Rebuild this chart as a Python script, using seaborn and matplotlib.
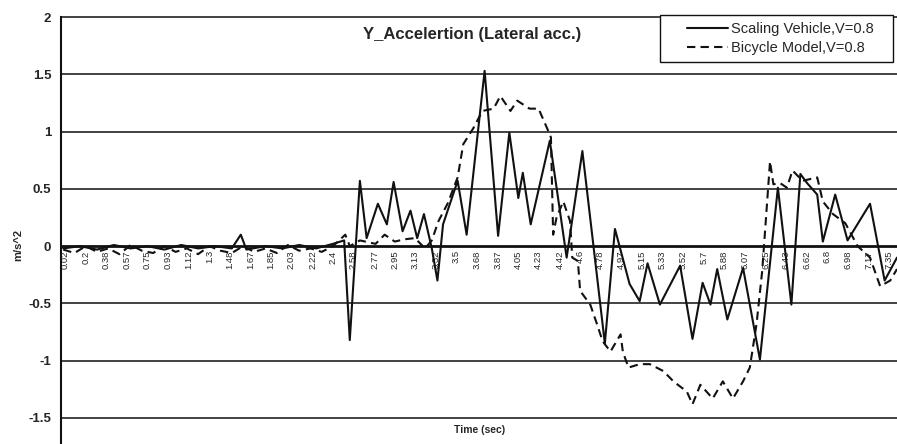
import matplotlib
matplotlib.use("Agg")
import matplotlib.pyplot as plt
import matplotlib.patches as mpatches
import seaborn as sns
import pandas as pd

# Scaling vehicle (solid line), time in s and lateral acceleration in m/s^2
scaling_t = [0.00, 0.15, 0.30, 0.45, 0.60, 0.75, 0.90, 1.05, 1.20, 1.35, 1.50, 1.58, 1.63,
             1.80, 1.95, 2.10, 2.25, 2.40, 2.50, 2.55, 2.64, 2.70, 2.80, 2.88, 2.94, 3.02,
             3.09, 3.15, 3.21, 3.28, 3.33, 3.38, 3.51, 3.59, 3.75, 3.87, 3.97, 4.05, 4.09,
             4.16, 4.33, 4.48, 4.62, 4.82, 4.91, 5.04, 5.13, 5.20, 5.31, 5.49, 5.60, 5.69,
             5.76, 5.82, 5.91, 6.05, 6.20, 6.36, 6.48, 6.56, 6.62, 6.71, 6.76, 6.87, 6.98,
             7.18, 7.31, 7.42]
scaling_acc = [-0.02, 0.00, -0.03, 0.01, -0.02, 0.00, -0.03, 0.01, -0.02, 0.00, -0.02, 0.10, -0.03,
               0.00, -0.02, 0.01, -0.02, 0.02, 0.05, -0.82, 0.57, 0.07, 0.37, 0.19, 0.56, 0.13,
               0.31, 0.07, 0.28, -0.02, -0.30, 0.19, 0.57, 0.10, 1.53, 0.09, 0.99, 0.42, 0.64,
               0.19, 0.92, -0.10, 0.83, -0.85, 0.15, -0.33, -0.48, -0.15, -0.51, -0.17, -0.81, -0.32,
               -0.51, -0.20, -0.64, -0.19, -0.99, 0.51, -0.51, 0.63, 0.55, 0.45, 0.04, 0.45, 0.05,
               0.37, -0.30, -0.10]

# Bicycle model (dashed line)
bicycle_t = [0.0, 0.1, 0.2, 0.3, 0.4, 0.5, 0.6, 0.7, 0.8, 0.9, 1.0, 1.1, 1.2, 1.3, 1.4, 1.5,
             1.6, 1.7, 1.8, 1.9, 2.0, 2.1, 2.2, 2.3, 2.4, 2.51, 2.55, 2.64, 2.78, 2.86, 2.95,
             3.04, 3.13, 3.22, 3.28, 3.34, 3.42, 3.51, 3.56, 3.65, 3.73, 3.83, 3.89, 3.98,
             4.04, 4.15, 4.23, 4.31, 4.34, 4.36, 4.39, 4.45, 4.51, 4.53, 4.58, 4.60, 4.69,
             4.75, 4.80, 4.87, 4.96, 4.98, 5.03, 5.13, 5.22, 5.34, 5.43, 5.55, 5.60, 5.67,
             5.78, 5.87, 5.96, 6.05, 6.11, 6.17, 6.22, 6.25, 6.29, 6.32, 6.38, 6.44, 6.49,
             6.58, 6.71, 6.76, 6.85, 6.96, 7.07, 7.18, 7.27, 7.36, 7.42]
bicycle_acc = [-0.03, -0.06, 0.00, -0.05, -0.02, -0.07, 0.01, -0.04, -0.06, 0.00, -0.05, -0.02,
               -0.07, 0.00, -0.04, -0.06, 0.00, -0.05, -0.02, -0.06, 0.01, -0.04, -0.02, -0.05,
               0.00, 0.10, 0.00, 0.05, 0.02, 0.10, 0.04, 0.06, 0.07, -0.02, 0.05, 0.22, 0.37,
               0.60, 0.89, 1.03, 1.18, 1.20, 1.31, 1.18, 1.27, 1.20, 1.20, 1.02, 0.95, 0.10,
               0.25, 0.39, 0.22, -0.10, -0.13, -0.39, -0.51, -0.68, -0.83, -0.92, -0.77, -0.92,
               -1.06, -1.03, -1.03, -1.09, -1.18, -1.27, -1.38, -1.21, -1.33, -1.18, -1.33,
               -1.18, -1.06, -0.68, -0.22, 0.19, 0.74, 0.54, 0.55, 0.51, 0.66, 0.57, 0.60,
               0.39, 0.28, 0.20, 0.00, -0.10, -0.35, -0.30, -0.20]

time_labels = ["0.02", "0.2", "0.38", "0.57", "0.75", "0.93", "1.12", "1.3", "1.48", "1.67",
               "1.85", "2.03", "2.22", "2.4", "2.58", "2.77", "2.95", "3.13", "3.32", "3.5",
               "3.68", "3.87", "4.05", "4.23", "4.42", "4.6", "4.78", "4.97", "5.15", "5.33",
               "5.52", "5.7", "5.88", "6.07", "6.25", "6.43", "6.62", "6.8", "6.98", "7.17",
               "7.35"]
y_ticks = [-1.5, -1, -0.5, 0, 0.5, 1, 1.5, 2]

sns.set_style("white")
plt.rcParams['font.family'] = ['Liberation Sans', 'DejaVu Sans']

fig = plt.figure(figsize=(8.97, 4.44), dpi=100)
ax = fig.add_axes([61 / 897, 0.0, 836 / 897, 427 / 444])

df_s = pd.DataFrame({"t": scaling_t, "a": scaling_acc})
df_b = pd.DataFrame({"t": bicycle_t, "a": bicycle_acc})

for v in y_ticks:
    if v != 0:
        ax.axhline(v, color="#222222", lw=1.2, zorder=1, clip_on=False)

sns.lineplot(data=df_s, x="t", y="a", ax=ax, color="#111111", lw=1.5,
             label="Scaling Vehicle,V=0.8", zorder=3)
sns.lineplot(data=df_b, x="t", y="a", ax=ax, color="#111111", lw=1.5,
             linestyle=(0, (4, 2.5)), label="Bicycle Model,V=0.8", zorder=3)

ax.set_xlim(-0.02, 7.42)
ax.set_ylim(-1.727, 2)

ax.spines['right'].set_visible(False)
ax.spines['top'].set_visible(False)
ax.spines['left'].set_color("#111111")
ax.spines['left'].set_linewidth(1.5)
ax.spines['bottom'].set_position(('data', 0))
ax.spines['bottom'].set_color("#111111")
ax.spines['bottom'].set_linewidth(2.0)
ax.spines['bottom'].set_zorder(4)

ax.set_yticks(y_ticks)
ax.set_yticklabels([f"{v:g}" for v in y_ticks], fontsize=9.5, fontweight='bold')
ax.tick_params(axis='y', direction='out', length=4, width=1, color="#111111", pad=3)

ax.set_xticks([float(s) for s in time_labels])
ax.set_xticklabels(time_labels, rotation=90, fontsize=6.8, va='top')
ax.tick_params(axis='x', direction='out', length=2, width=0.8, color="#111111", pad=1)

ax.set_xlabel("")
ax.set_ylabel("")
fig.text(18 / 897, 1 - 245 / 444, "m/s^2", rotation=90, ha='center', va='center',
         fontsize=8, fontweight='bold')
fig.text(480 / 897, 1 - 430 / 444, "Time (sec)", ha='center', va='center',
         fontsize=7.5, fontweight='bold')
fig.text(472 / 897, 1 - 34 / 444, "Y_Accelertion (Lateral acc.)", ha='center', va='center',
         fontsize=12, fontweight='bold')

# legend box drawn as its own rectangle, entries without frame on top
box = mpatches.Rectangle((660 / 897, 1 - 62 / 444), 233 / 897, 47 / 444,
                         transform=fig.transFigure, facecolor="white",
                         edgecolor="#111111", lw=1.0, zorder=5, clip_on=False)
ax.add_patch(box)
leg = ax.legend(loc='center left', bbox_to_anchor=(680 / 897, 1 - 38.5 / 444),
                bbox_transform=fig.transFigure, fontsize=10.5, frameon=False,
                handlelength=2.8, handletextpad=0.2, borderpad=0.0,
                labelspacing=0.35)
leg.set_zorder(6)

fig.savefig("out.png", dpi=100)
